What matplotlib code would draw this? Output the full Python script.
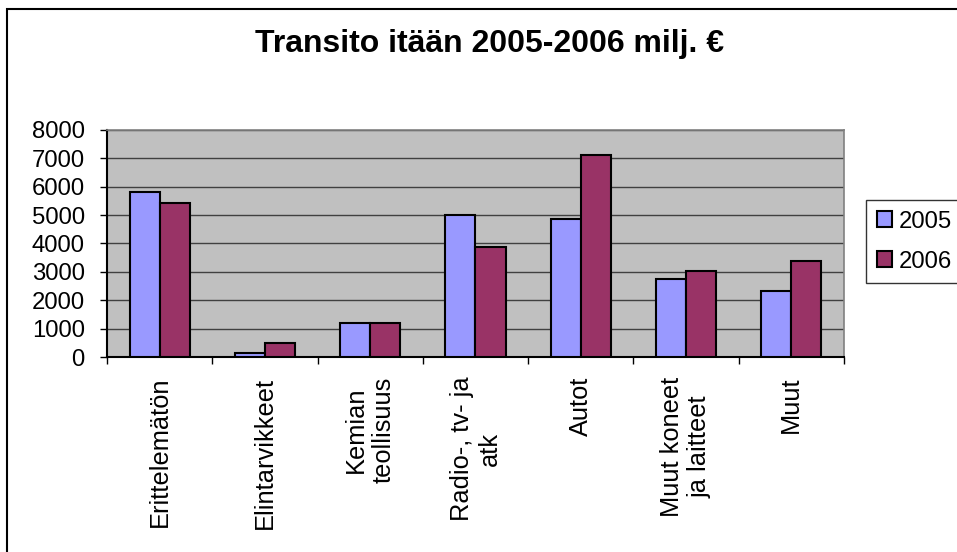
import matplotlib
matplotlib.use("Agg")
import matplotlib.pyplot as plt
import numpy as np
from matplotlib.patches import Rectangle

categories = ["Erittelemätön", "Elintarvikkeet", "Kemian\nteollisuus", "Radio-, tv- ja\natk",
              "Autot", "Muut koneet\nja laitteet", "Muut"]
values_2005 = [5800, 140, 1200, 5000, 4860, 2750, 2320]
values_2006 = [5430, 490, 1200, 3880, 7130, 3040, 3390]
series_names = ["2005", "2006"]
yticks = [0, 1000, 2000, 3000, 4000, 5000, 6000, 7000, 8000]
title = "Transito itään 2005-2006 milj. €"

plt.rcParams['font.family'] = ['Liberation Sans', 'DejaVu Sans']

W, H = 957, 552
fig = plt.figure(figsize=(W / 100, H / 100), dpi=100)
fig.patch.set_facecolor("white")

# outer chart border
fig.patches.append(Rectangle((7.5 / W, -0.2), 2, 1.2 - 8.5 / H, transform=fig.transFigure,
                             fill=False, edgecolor="black", linewidth=1.5))

ax = fig.add_axes([107 / W, 1 - 357 / H, (844 - 107) / W, (357 - 130) / H])
ax.set_facecolor("#C0C0C0")

x = np.arange(len(categories))
w = 1 / 3.5
ax.bar(x - w / 2, values_2005, w, color="#9999FF", edgecolor="black", linewidth=1.5,
       label=series_names[0], zorder=3)
ax.bar(x + w / 2, values_2006, w, color="#993366", edgecolor="black", linewidth=1.5,
       label=series_names[1], zorder=3)

ax.set_xlim(-0.5, len(categories) - 0.5)
ax.set_ylim(0, 8000)
ax.set_yticks(yticks)
ax.set_yticklabels([str(v) for v in yticks], fontsize=17.2)
ax.yaxis.grid(True, color="#404040", linewidth=1, zorder=1)
ax.set_axisbelow(True)

ax.set_xticks(x)
ax.set_xticklabels(categories, rotation=90, fontsize=18.3, va="top", ha="center",
                   multialignment="center")
ax.tick_params(axis="x", which="major", length=0, pad=14)
ax.set_xticks(np.arange(-0.5, len(categories), 1.0), minor=True)
ax.tick_params(axis="x", which="minor", length=5, width=1, color="black", direction="out")
ax.tick_params(axis="y", length=5, width=1, direction="out", pad=11)

for s in ["top", "right"]:
    ax.spines[s].set_color("#808080")
    ax.spines[s].set_linewidth(1.2)
for s in ["left", "bottom"]:
    ax.spines[s].set_color("black")
    ax.spines[s].set_linewidth(1.5)

fig.text(490 / W, 1 - 44 / H, title, fontsize=23, fontweight="bold", ha="center", va="center")

leg = fig.legend(loc="upper left", bbox_to_anchor=(866 / W, 1 - 200 / H), fontsize=17.2,
                 frameon=True, fancybox=False, handlelength=0.65, handleheight=0.65,
                 handletextpad=0.25, borderpad=0.45, labelspacing=0.75, borderaxespad=0)
leg.get_frame().set_edgecolor("black")
leg.get_frame().set_linewidth(1)

fig.savefig("out.png", dpi=100)
